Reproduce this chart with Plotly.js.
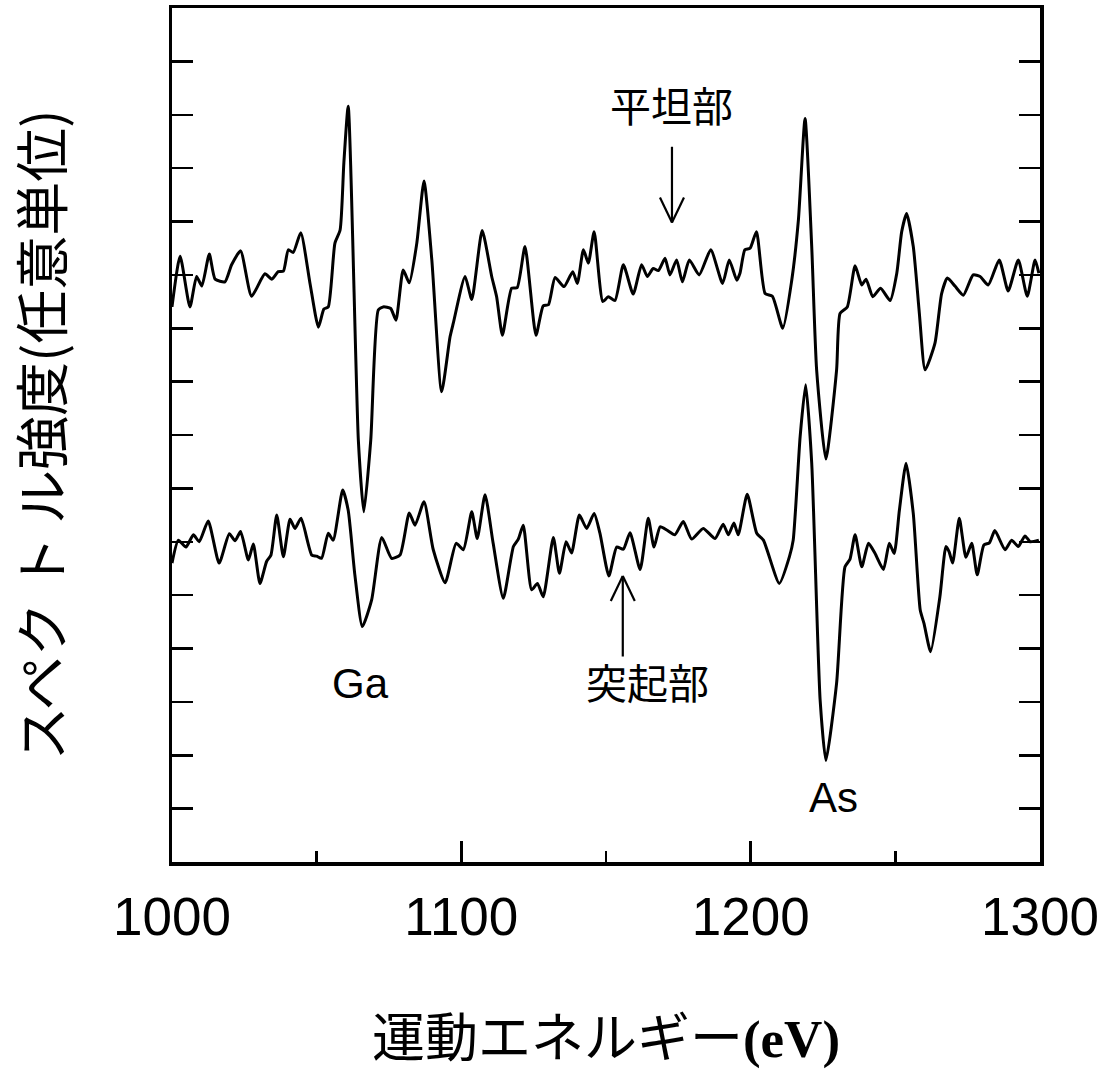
<!DOCTYPE html>
<html>
<head>
<meta charset="utf-8">
<script src="https://cdn.plot.ly/plotly-3.0.1.min.js"></script>
<style>html,body{margin:0;padding:0;background:#fff;}#chart{width:1107px;height:1072px;}</style>
</head>
<body>
<div id="chart"></div>
<script>
// 平坦部 (flat region) spectrum — kinetic energy (eV) vs intensity (arb. units)
var xFlat = [1000,1002.8,1006.2,1008.5,1010.3,1012.9,1014.9,1018.3,1020.6,1023.7,1027.5,1032.1,1034.5,1036.7,1038.5,1040.2,1041.9,1044.5,1047.7,1050.6,1052.5,1054.0,1056.3,1058.1,1059.4,1060.9,1064.4,1066.3,1068.7,1071.3,1073.0,1075.6,1077.4,1079.9,1082.0,1084.6,1087.1,1089.8,1093.2,1096.1,1097.2,1101.3,1103.6,1107.2,1110.5,1112.2,1114.2,1117.4,1119.3,1122.0,1125.8,1128.3,1130.1,1132.4,1135.5,1138.5,1140.1,1142.2,1143.9,1145.9,1148.9,1150.8,1153.1,1156.0,1159.4,1162.3,1164.3,1166.3,1168.1,1170.4,1172.1,1174.4,1176.4,1178.8,1182.2,1186.2,1190.3,1192.6,1195.2,1196.3,1198.0,1199.8,1202.0,1205.0,1207.5,1211.1,1214.2,1216.5,1218.8,1221.1,1222.8,1226.0,1229.7,1230.9,1233.4,1236.1,1238.4,1239.9,1242.2,1244.9,1248.2,1250.5,1252.2,1253.9,1256.2,1258.3,1260.3,1263.7,1266.0,1268.0,1270.6,1273.5,1276.9,1279.3,1282.1,1285.9,1289.0,1292.5,1295.6,1298.3,1299.6];
var yFlat = [10.40,11.35,10.40,10.97,10.79,11.39,10.92,10.87,11.19,11.45,10.60,11.02,10.92,11.06,11.07,11.47,11.42,11.79,10.84,10.02,10.36,10.40,11.59,11.84,13.10,14.16,7.91,6.56,7.91,10.34,10.40,10.37,10.15,11.09,10.85,11.59,12.76,11.28,8.81,9.84,10.09,10.97,10.54,11.83,10.97,10.59,9.87,10.75,10.76,11.53,9.87,10.42,10.44,10.95,10.78,11.06,10.84,11.47,11.22,11.81,10.50,10.59,10.52,11.19,10.64,11.19,10.97,11.12,11.08,11.31,11.00,11.28,10.87,11.28,11.00,11.47,10.84,11.28,10.90,11.03,11.47,11.50,11.81,10.65,10.60,10.00,10.90,12.03,13.93,11.53,9.22,7.55,9.22,10.28,10.40,11.17,10.81,10.92,10.59,10.75,10.52,11.03,11.81,12.15,11.53,10.28,9.22,9.72,10.65,10.94,10.79,10.62,11.00,10.97,10.81,11.28,10.70,11.28,10.60,11.28,11.03];

// 突起部 (protrusion) spectrum
var xBump = [1000,1002.2,1004.8,1007.4,1009.4,1012.5,1016.3,1019.8,1021.8,1023.7,1026.4,1028.1,1030.4,1032.7,1034.2,1036.2,1038.5,1040.8,1042.5,1044.6,1048.3,1050.0,1051.7,1054.0,1055.7,1059.0,1060.9,1063.2,1065.8,1069.0,1072.5,1075.9,1078.8,1082.0,1084.0,1087.1,1090.3,1094.4,1098.2,1100.7,1103.6,1105.5,1108.2,1111.0,1114.5,1118.0,1119.7,1121.4,1124.3,1126.3,1128.3,1131.8,1133.9,1136.2,1138.1,1140.8,1143.3,1145.9,1147.9,1151.0,1153.7,1156.0,1158.3,1161.8,1164.6,1166.6,1168.7,1171.0,1173.8,1176.7,1179.6,1183.6,1187.7,1190.5,1192.3,1194.2,1195.7,1198.8,1202.1,1204.4,1209.9,1213.4,1214.7,1217.1,1219.0,1221.1,1224.0,1226.0,1229.7,1232.6,1234.3,1236.1,1238.4,1240.7,1243.0,1245.9,1247.9,1249.6,1251.4,1253.7,1256.2,1258.6,1259.9,1262.2,1265.4,1267.5,1268.6,1269.8,1272.1,1274.4,1276.4,1278.3,1280.6,1282.5,1284.4,1287.9,1290.2,1292.5,1294.8,1296.6,1299.6];
var yBump = [5.60,6.03,5.90,6.13,6.00,6.39,5.60,6.15,6.02,6.19,5.66,5.96,5.22,5.63,5.75,6.50,5.72,6.42,6.25,6.44,5.75,5.73,5.69,6.16,6.03,6.97,6.59,5.38,4.41,4.91,6.08,5.69,5.75,6.54,6.31,6.75,5.85,5.23,5.97,5.85,6.56,6.06,6.88,5.97,4.94,5.91,6.05,6.31,5.10,5.22,4.97,6.08,5.41,6.00,5.79,6.50,6.25,6.53,6.16,5.36,5.90,5.86,6.17,5.48,6.44,5.90,6.28,6.22,6.13,6.38,6.05,6.25,6.06,6.33,6.13,6.35,6.13,6.89,6.16,6.03,5.22,5.72,6.03,7.97,8.94,7.47,3.04,1.90,3.35,5.53,5.67,6.13,5.53,5.97,5.78,5.48,5.97,5.78,6.59,7.47,6.53,4.72,4.47,3.94,4.97,5.91,5.81,5.60,6.44,5.71,5.97,5.38,5.94,5.98,6.21,5.85,6.03,5.91,6.11,6.00,6.03];

var xTickVals = [1000, 1100, 1200, 1300];
var xTickText = ['1000', '1100', '1200', '1300'];

var peakLabels = ['Ga', 'As'];
var peakLabelX = [1065, 1228.5];
var peakLabelY = [3.35, 1.21];

var regionLabels = ['平坦部', '突起部'];

var lineStyle = {color: '#000', width: 3, shape: 'spline', smoothing: 0.55};

var traces = [
  {x: xFlat, y: yFlat, type: 'scatter', mode: 'lines', name: regionLabels[0], line: lineStyle, hoverinfo: 'skip'},
  {x: xBump, y: yBump, type: 'scatter', mode: 'lines', name: regionLabels[1], line: lineStyle, hoverinfo: 'skip'}
];

var jpSans = '"Noto Sans CJK JP", "Noto Sans", sans-serif';
var latin = '"Liberation Sans", Arial, sans-serif';
var annotations = [
  {x: peakLabelX[0], y: peakLabelY[0], xref: 'x', yref: 'y', text: peakLabels[0], showarrow: false,
   font: {family: latin, size: 42, color: '#000'}},
  {x: peakLabelX[1], y: peakLabelY[1], xref: 'x', yref: 'y', text: peakLabels[1], showarrow: false,
   font: {family: latin, size: 42, color: '#000'}},
  {x: 1172.8, y: 14.2, xref: 'x', yref: 'y', text: regionLabels[0], showarrow: false,
   font: {family: jpSans, size: 41, color: '#000'}},
  {x: 1164.4, y: 3.4, xref: 'x', yref: 'y', text: regionLabels[1], showarrow: false,
   font: {family: jpSans, size: 41, color: '#000'}}
];

// arrows: shaft in axis units, open V head in pixels around the tip
function arrowShapes(xA, yTip, yTail, dir) {
  var st = {color: '#000', width: 2.2};
  return [
    {type: 'line', xref: 'x', yref: 'y', x0: xA, x1: xA, y0: yTail, y1: yTip, line: st},
    {type: 'line', xref: 'x', yref: 'y', xsizemode: 'pixel', ysizemode: 'pixel', xanchor: xA, yanchor: yTip,
     x0: 0, y0: 0, x1: -12, y1: dir * 25, line: st},
    {type: 'line', xref: 'x', yref: 'y', xsizemode: 'pixel', ysizemode: 'pixel', xanchor: xA, yanchor: yTip,
     x0: 0, y0: 0, x1: 12, y1: dir * 25, line: st}
  ];
}
var shapes = [].concat(arrowShapes(1172.8, 11.98, 13.4, 1), arrowShapes(1155.8, 5.36, 3.85, -1));

var layout = {
  width: 1107, height: 1072,
  margin: {l: 172, r: 67, t: 8, b: 210},
  paper_bgcolor: '#fff', plot_bgcolor: '#fff',
  showlegend: false,
  xaxis: {
    range: [1000, 1300], showgrid: false, zeroline: false,
    tickvals: xTickVals, ticktext: xTickText,
    ticks: 'inside', ticklen: 21, tickwidth: 2.5, tickcolor: '#000',
    minor: {dtick: 50, tick0: 1000, ticks: 'inside', ticklen: 11, tickwidth: 2.5, tickcolor: '#000', showgrid: false},
    showline: true, linewidth: 3.5, linecolor: '#000', mirror: true,
    tickfont: {family: latin, size: 53, color: '#000'},
    ticklabelstandoff: 6,
    title: {text: '運動エネルギー<b>(eV)</b>', standoff: 76,
            font: {family: '"Liberation Serif", "Noto Sans CJK JP", serif', size: 53, color: '#000'}}
  },
  yaxis: {
    range: [0, 16], showgrid: false, zeroline: false,
    dtick: 1, tick0: 0, ticks: 'inside', ticklen: 21, tickwidth: 2.5, tickcolor: '#000',
    showticklabels: false,
    showline: true, linewidth: 3.5, linecolor: '#000', mirror: 'ticks',
    title: {text: 'スペク ト ル強度(任意単位)', standoff: 102,
            font: {family: jpSans, size: 54, color: '#000'}}
  },
  annotations: annotations,
  shapes: shapes
};

Plotly.newPlot('chart', traces, layout, {staticPlot: true, displayModeBar: false});
</script>
</body>
</html>
